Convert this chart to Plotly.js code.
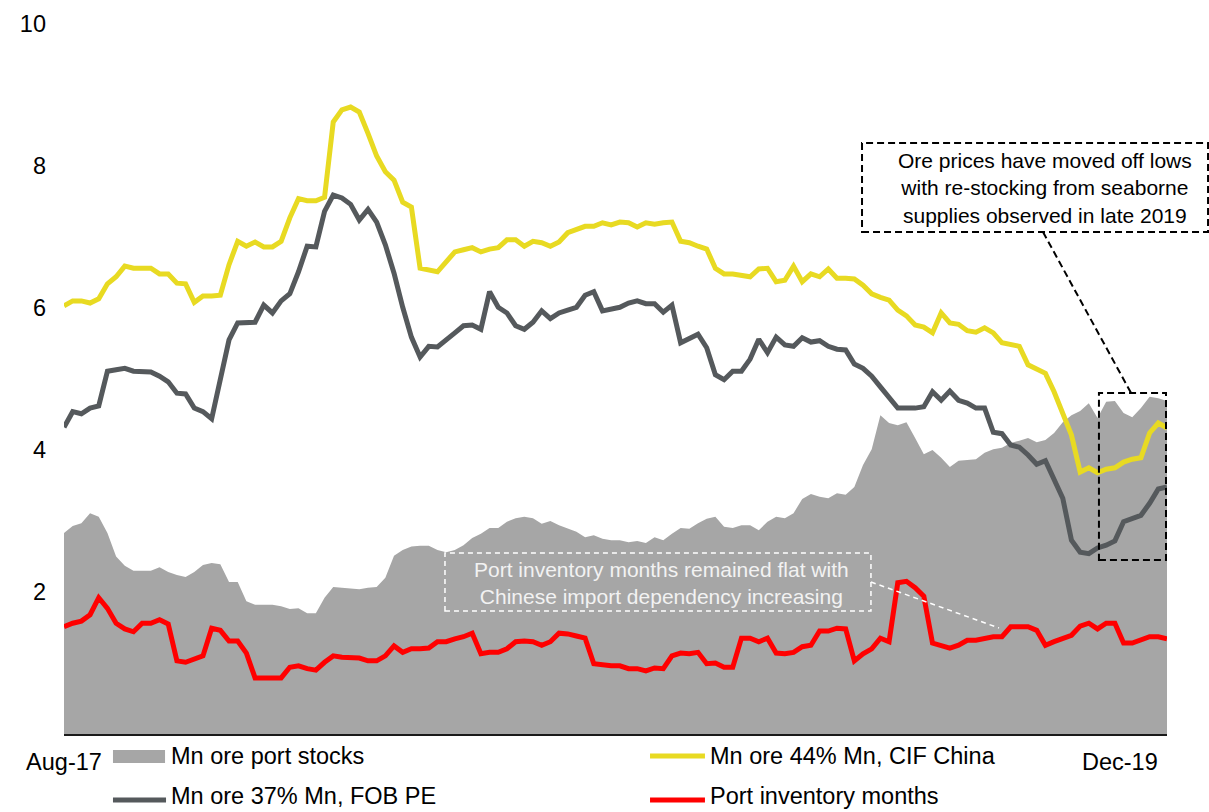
<!DOCTYPE html>
<html>
<head>
<meta charset="utf-8">
<script src="https://cdn.plot.ly/plotly-3.0.1.min.js"></script>
<style>
  html, body { margin: 0; padding: 0; background: #fff; }
  #chart { width: 1209px; height: 812px; }
</style>
</head>
<body>
<div id="chart"></div>
<script>
// Weekly series, first week of Aug-17 onwards
const firstWeek = '2017-08-04';

// Mn ore port stocks (area)
const portStocks = [
  2.83,2.93,2.97,3.11,3.06,2.83,2.50,2.37,2.30,2.30,
  2.30,2.35,2.28,2.24,2.21,2.28,2.38,2.41,2.39,2.14,
  2.14,1.87,1.82,1.82,1.82,1.80,1.76,1.77,1.70,1.70,
  1.92,2.07,2.06,2.04,2.04,2.06,2.07,2.20,2.51,2.59,
  2.64,2.65,2.65,2.59,2.56,2.59,2.66,2.76,2.82,2.90,
  2.90,2.99,3.04,3.06,3.04,2.96,3.00,2.94,2.90,2.85,
  2.77,2.80,2.75,2.73,2.73,2.70,2.72,2.69,2.77,2.73,
  2.82,2.90,2.89,2.97,3.03,3.06,2.92,2.90,2.94,2.94,
  2.87,2.99,3.06,3.04,3.11,3.31,3.38,3.34,3.32,3.39,
  3.37,3.48,3.79,4.01,4.49,4.38,4.35,4.39,4.17,3.94,
  4.00,3.89,3.76,3.85,3.86,3.87,3.96,4.01,4.03,4.10,
  4.13,4.17,4.11,4.14,4.24,4.39,4.49,4.55,4.66,4.45,
  4.68,4.69,4.52,4.46,4.59,4.75,4.73,4.69
];

// Mn ore 44% Mn, CIF China
const cifChina = [
  6.03,6.10,6.10,6.07,6.13,6.34,6.44,6.59,6.56,6.56,
  6.56,6.48,6.48,6.35,6.34,6.08,6.17,6.17,6.18,6.61,
  6.94,6.87,6.93,6.86,6.86,6.94,7.27,7.54,7.51,7.51,
  7.56,8.62,8.79,8.83,8.76,8.46,8.14,7.92,7.80,7.49,
  7.42,6.56,6.54,6.51,6.65,6.79,6.82,6.85,6.79,6.83,
  6.85,6.96,6.96,6.87,6.94,6.92,6.87,6.93,7.06,7.11,
  7.15,7.15,7.20,7.17,7.21,7.20,7.14,7.20,7.18,7.20,
  7.21,6.94,6.92,6.87,6.83,6.56,6.48,6.48,6.46,6.44,
  6.55,6.56,6.37,6.39,6.59,6.37,6.48,6.44,6.55,6.42,
  6.42,6.41,6.32,6.20,6.15,6.11,5.97,5.89,5.76,5.73,
  5.65,5.93,5.79,5.77,5.68,5.66,5.72,5.65,5.51,5.48,
  5.46,5.20,5.13,5.08,4.82,4.52,4.21,3.69,3.75,3.68,
  3.73,3.75,3.83,3.87,3.89,4.24,4.38,4.31
];

// Mn ore 37% Mn, FOB PE
const fobPE = [
  4.32,4.54,4.51,4.59,4.62,5.11,5.13,5.15,5.11,5.11,
  5.10,5.04,4.96,4.80,4.79,4.59,4.54,4.44,4.96,5.55,
  5.79,5.79,5.80,6.04,5.93,6.10,6.20,6.51,6.87,6.86,
  7.36,7.59,7.55,7.46,7.24,7.39,7.21,6.89,6.49,6.01,
  5.59,5.31,5.46,5.45,5.54,5.65,5.75,5.76,5.70,6.23,
  6.01,5.93,5.75,5.70,5.80,5.96,5.85,5.93,5.97,6.01,
  6.18,6.23,5.96,5.99,6.01,6.07,6.10,6.06,6.06,5.94,
  6.04,5.51,5.58,5.63,5.44,5.06,4.99,5.11,5.11,5.28,
  5.56,5.37,5.59,5.48,5.46,5.58,5.52,5.54,5.46,5.42,
  5.41,5.21,5.15,5.04,4.89,4.73,4.59,4.59,4.59,4.61,
  4.82,4.70,4.83,4.70,4.66,4.59,4.59,4.25,4.23,4.07,
  4.04,3.93,3.80,3.85,3.58,3.32,2.73,2.56,2.54,2.62,
  2.66,2.72,2.99,3.04,3.08,3.25,3.45,3.48
];

// Port inventory months
const inventoryMonths = [
  1.51,1.56,1.59,1.68,1.92,1.77,1.56,1.48,1.44,1.56,
  1.56,1.61,1.55,1.03,1.01,1.06,1.10,1.49,1.46,1.31,
  1.31,1.14,0.79,0.79,0.79,0.79,0.94,0.96,0.92,0.90,
  1.01,1.10,1.08,1.08,1.07,1.03,1.03,1.10,1.24,1.15,
  1.20,1.20,1.21,1.30,1.30,1.34,1.37,1.42,1.13,1.15,
  1.15,1.20,1.30,1.31,1.30,1.25,1.30,1.42,1.41,1.38,
  1.35,0.99,0.97,0.96,0.96,0.92,0.92,0.89,0.93,0.92,
  1.10,1.14,1.13,1.15,0.99,1.00,0.94,0.94,1.35,1.35,
  1.30,1.35,1.14,1.13,1.15,1.23,1.25,1.45,1.45,1.49,
  1.48,1.03,1.13,1.20,1.35,1.30,2.13,2.15,2.06,1.94,
  1.28,1.24,1.21,1.25,1.32,1.32,1.35,1.37,1.37,1.51,
  1.51,1.51,1.46,1.25,1.30,1.35,1.39,1.52,1.56,1.48,
  1.56,1.56,1.28,1.28,1.32,1.37,1.37,1.34
];

const seriesNames = ['Mn ore port stocks', 'Mn ore 44% Mn, CIF China', 'Mn ore 37% Mn, FOB PE', 'Port inventory months'];
const xTickLabels = ['Aug-17', 'Dec-19'];
const xTickDates = [firstWeek, '2019-12-03'];
const yTicks = [2, 4, 6, 8, 10];

const COLORS = { stocks: '#a6a6a6', cif: '#e8da22', fob: '#55595c', months: '#ff0000' };
const FONT = 'Liberation Sans, Arial, sans-serif';

// weekly date axis
const t0 = Date.parse(firstWeek + 'T00:00:00Z');
const weeks = portStocks.map((_, i) => new Date(t0 + i * 7 * 86400000).toISOString().slice(0, 10));

const traces = [
  { x: weeks, y: portStocks, name: seriesNames[0], type: 'scatter', mode: 'lines',
    fill: 'tozeroy', fillcolor: COLORS.stocks, line: { width: 0, color: COLORS.stocks }, hoverinfo: 'skip' },
  { x: weeks, y: cifChina, name: seriesNames[1], type: 'scatter', mode: 'lines',
    line: { width: 5, color: COLORS.cif } },
  { x: weeks, y: fobPE, name: seriesNames[2], type: 'scatter', mode: 'lines',
    line: { width: 5, color: COLORS.fob } },
  { x: weeks, y: inventoryMonths, name: seriesNames[3], type: 'scatter', mode: 'lines',
    line: { width: 5, color: COLORS.months } }
];

// helper for paper-coordinate dashed shapes
function rect(x0, y0, x1, y1, color, width, dash) {
  return { type: 'rect', xref: 'paper', yref: 'paper', x0, y0, x1, y1,
           line: { color, width, dash }, fillcolor: 'rgba(0,0,0,0)', layer: 'above' };
}
function seg(x0, y0, x1, y1, color, width, dash) {
  return { type: 'line', xref: 'paper', yref: 'paper', x0, y0, x1, y1,
           line: { color, width, dash }, layer: 'above' };
}

const shapes = [
  // callout: late 2019 re-stocking
  rect(0.7235, 0.7070, 1.0372, 0.8324, '#000', 2, '7px,4px'),
  seg(0.8876, 0.7070, 0.9674, 0.4803, '#000', 2, '7px,4px'),
  rect(0.9383, 0.2451, 0.9991, 0.4803, '#000', 2, '7px,4px'),
  // callout: inventory months
  rect(0.3454, 0.1732, 0.7316, 0.2549, '#ffffff', 1.5, '5px,4px'),
  seg(0.7316, 0.2141, 0.8477, 0.1493, '#ffffff', 1.5, '5px,4px'),
  // legend swatches
  { type: 'rect', xref: 'paper', yref: 'paper', x0: 0.0444, x1: 0.0916, y0: -0.0408, y1: -0.0225,
    line: { width: 0 }, fillcolor: COLORS.stocks },
  seg(0.5313, -0.031, 0.5811, -0.031, COLORS.cif, 5, 'solid'),
  seg(0.0444, -0.0930, 0.0925, -0.0930, COLORS.fob, 5, 'solid'),
  seg(0.5313, -0.0930, 0.5811, -0.0930, COLORS.months, 5, 'solid')
];

const legendText = (text, x, y) => ({
  text, xref: 'paper', yref: 'paper', x, y, xanchor: 'left', yanchor: 'middle',
  showarrow: false, borderpad: 0, font: { family: FONT, size: 23.5, color: '#000' }
});

const annotations = [
  { text: 'Ore prices have moved off lows<br>with re-stocking from seaborne<br>supplies observed in late 2019',
    xref: 'paper', yref: 'paper', x: 0.8894, y: 0.769, xanchor: 'center', yanchor: 'middle',
    showarrow: false, align: 'center', borderpad: 0,
    font: { family: FONT, size: 21, color: '#000' } },
  { text: 'Port inventory months remained flat with<br>Chinese import dependency increasing',
    xref: 'paper', yref: 'paper', x: 0.5413, y: 0.2127, xanchor: 'center', yanchor: 'middle',
    showarrow: false, align: 'center', borderpad: 0,
    font: { family: FONT, size: 21, color: '#f2f2f2' } },
  legendText(seriesNames[0], 0.0961, -0.031),
  legendText(seriesNames[1], 0.5848, -0.031),
  legendText(seriesNames[2], 0.0961, -0.0873),
  legendText(seriesNames[3], 0.5848, -0.0873)
];

const layout = {
  width: 1209, height: 812,
  margin: { l: 64, r: 42, t: 24, b: 78, pad: 0 },
  paper_bgcolor: '#ffffff', plot_bgcolor: '#ffffff',
  font: { family: FONT, size: 23.5, color: '#000' },
  showlegend: false,
  xaxis: {
    type: 'date', range: [weeks[0], weeks[weeks.length - 1]],
    tickmode: 'array', tickvals: xTickDates, ticktext: xTickLabels,
    showgrid: false, zeroline: false, ticks: '',
    showline: true, linecolor: '#1a1a1a', linewidth: 2,
    ticklabelstandoff: 6,
    tickfont: { family: FONT, size: 23.5, color: '#000' }
  },
  yaxis: {
    range: [0, 10], tickmode: 'array', tickvals: yTicks,
    showgrid: false, zeroline: false, showline: false, ticks: '',
    ticklabelstandoff: 17,
    tickfont: { family: FONT, size: 23.5, color: '#000' }
  },
  shapes, annotations
};

Plotly.newPlot('chart', traces, layout, { staticPlot: true, displayModeBar: false });
</script>
</body>
</html>
